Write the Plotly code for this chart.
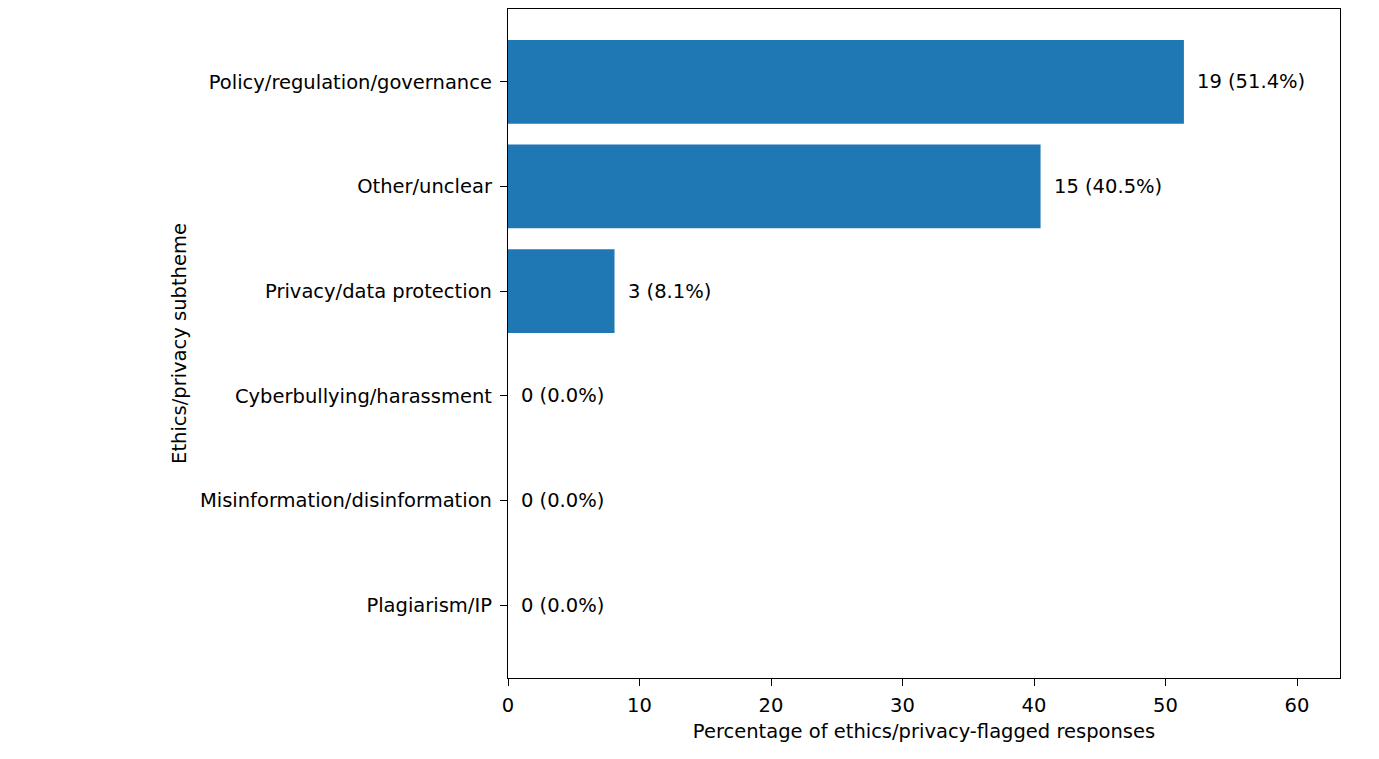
import plotly.graph_objects as go

categories = ["Policy/regulation/governance", "Other/unclear", "Privacy/data protection",
              "Cyberbullying/harassment", "Misinformation/disinformation", "Plagiarism/IP"]
counts = [19, 15, 3, 0, 0, 0]
percentages = [51.4, 40.5, 8.1, 0.0, 0.0, 0.0]
x_ticks = [0, 10, 20, 30, 40, 50, 60]

cats_rev = categories[::-1]
pct_rev = percentages[::-1]
cnt_rev = counts[::-1]

FONT = "DejaVu Sans"
FS = 19.5
fig = go.Figure()
fig.add_trace(go.Bar(
    x=pct_rev, y=list(range(len(cats_rev))), orientation="h",
    marker=dict(color="#1f77b4", line=dict(width=0)), width=0.8,
    hoverinfo="skip",
))
for i, (p, c) in enumerate(zip(pct_rev, cnt_rev)):
    fig.add_annotation(x=p, y=i, text=f"{c} ({p:.1f}%)", xref="x", yref="y",
                       xanchor="left", yanchor="middle", xshift=11, showarrow=False,
                       font=dict(family=FONT, size=FS, color="black"))

axis_common = dict(showline=True, linecolor="black", linewidth=1.3, mirror=True,
                   ticks="outside", ticklen=7, tickwidth=1.3, tickcolor="black",
                   showgrid=False, zeroline=False,
                   tickfont=dict(family=FONT, size=FS, color="black"))
fig.update_xaxes(range=[0, 63.27], tickvals=x_ticks, ticktext=[str(t) for t in x_ticks],
                 ticklabelstandoff=2,
                 title=dict(text="Percentage of ethics/privacy-flagged responses",
                            font=dict(family=FONT, size=FS, color="black"), standoff=8),
                 **axis_common)
fig.update_yaxes(range=[-0.695, 5.695], tickvals=list(range(len(cats_rev))), ticktext=cats_rev,
                 ticklabelstandoff=4,
                 title=dict(text="Ethics/privacy subtheme",
                            font=dict(family=FONT, size=FS, color="black"), standoff=8),
                 **axis_common)
fig.update_layout(width=1371, height=754, margin=dict(l=500, r=39, t=1, b=84),
                  plot_bgcolor="white", paper_bgcolor="white", showlegend=False,
                  font=dict(family=FONT, size=FS, color="black"))
fig.write_html("out.html")
